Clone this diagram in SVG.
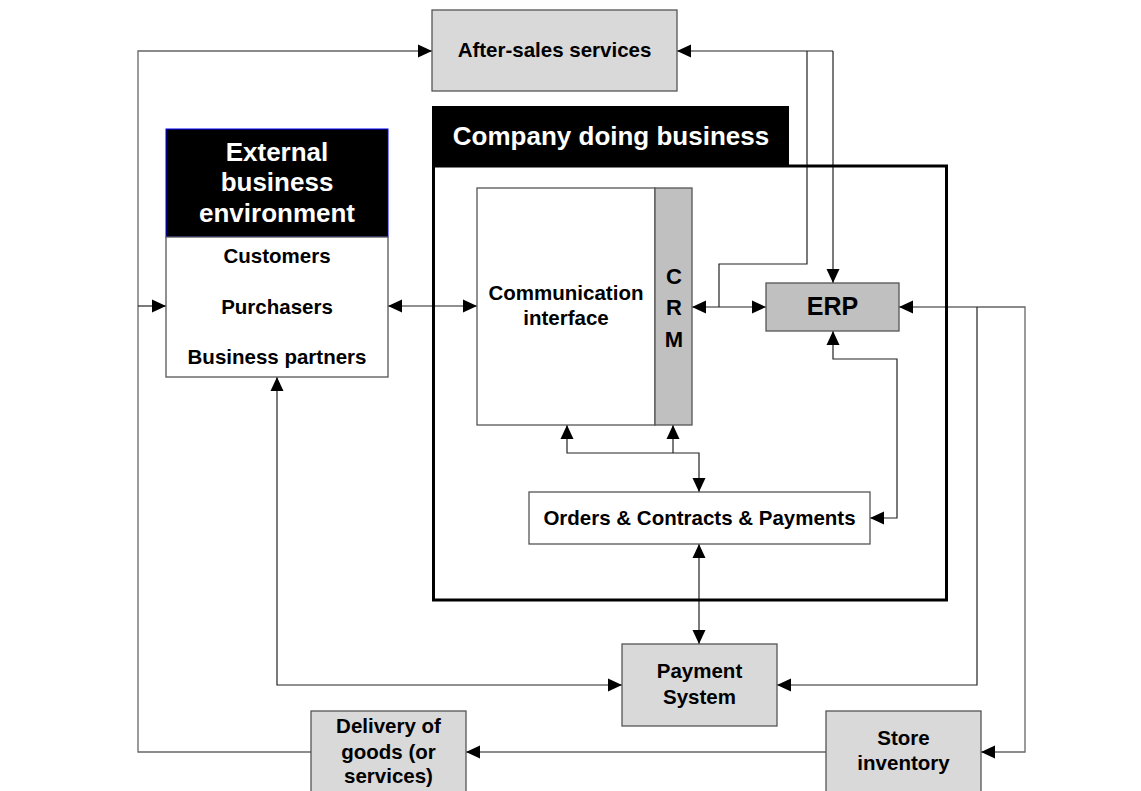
<svg xmlns="http://www.w3.org/2000/svg" width="1141" height="791" viewBox="0 0 1141 791">
<defs>
<style>
.t{font-family:"Liberation Sans",Arial,sans-serif;font-weight:bold;text-anchor:middle;fill:#000}
.w{fill:#fff}
.s{font-size:20.5px}
.l{font-size:26px}
.box{stroke:#555;stroke-width:1.3}
.c{fill:none;stroke:#222;stroke-width:1.2}
.g{fill:none;stroke:#666;stroke-width:1.3}
</style>
<marker id="a" markerUnits="userSpaceOnUse" markerWidth="14" markerHeight="14" refX="14" refY="6.5" orient="auto-start-reverse" viewBox="0 0 14 13">
<path d="M0,0 L14,6.5 L0,13 z" fill="#000"/>
</marker>
</defs>
<rect width="1141" height="791" fill="#fff"/>

<g id="connectors">
<path class="g" d="M311,752 H138 V51 H432" marker-end="url(#a)"/>
<path class="c" d="M138,306 H166" marker-end="url(#a)"/>
<path class="g" d="M826,752 H466" marker-end="url(#a)"/>
<path class="c" d="M977,307 H899" marker-end="url(#a)"/>
<path class="g" d="M977,307 H1025 V752 H981" marker-end="url(#a)"/>
<path class="c" d="M977,307 V685 H777" marker-end="url(#a)"/>
<path class="c" d="M692,307 H766" marker-start="url(#a)" marker-end="url(#a)"/>
<path class="c" d="M719,307 V264 H807 V51"/>
<path class="c" d="M833,51 H677" marker-end="url(#a)"/>
<path class="c" d="M833,51 V283" marker-end="url(#a)"/>
<path class="c" d="M388,306 H477" marker-start="url(#a)" marker-end="url(#a)"/>
<path class="c" d="M833,331 V359 H897 V518 H870" marker-start="url(#a)" marker-end="url(#a)"/>
<path class="c" d="M567,425 V453 H699 V492" marker-start="url(#a)" marker-end="url(#a)"/>
<path class="c" d="M673,425 V453" marker-start="url(#a)"/>
<path class="c" d="M699,544 V644" marker-start="url(#a)" marker-end="url(#a)"/>
<path class="c" d="M277,377 V685 H622" marker-start="url(#a)" marker-end="url(#a)"/>
</g>

<g id="company">
<rect x="433.5" y="166" width="513" height="434" fill="none" stroke="#000" stroke-width="3"/>
<rect x="432" y="106" width="357" height="60" fill="#000"/>
<text class="t w l" x="611" y="145">Company doing business</text>
</g>

<g id="after-sales">
<rect class="box" x="432" y="10" width="245" height="81" fill="#d9d9d9"/>
<text class="t s" x="554.5" y="57">After-sales services</text>
</g>

<g id="external">
<rect x="166" y="129" width="222" height="108" fill="#000" stroke="#00f" stroke-width="1"/>
<rect class="box" x="166" y="237" width="222" height="140" fill="#fff"/>
<text class="t w l" x="277" y="161">External</text>
<text class="t w l" x="277" y="191">business</text>
<text class="t w l" x="277" y="222">environment</text>
<text class="t s" x="277" y="263">Customers</text>
<text class="t s" x="277" y="314">Purchasers</text>
<text class="t s" x="277" y="364">Business partners</text>
</g>

<g id="comm">
<rect class="box" x="477" y="188" width="178" height="237" fill="#fff"/>
<text class="t s" x="566" y="300">Communication</text>
<text class="t s" x="566" y="325">interface</text>
</g>

<g id="crm">
<rect class="box" x="655" y="188" width="37" height="237" fill="#c0c0c0"/>
<text class="t" style="font-size:22px" x="674" y="284">C</text>
<text class="t" style="font-size:22px" x="674" y="315">R</text>
<text class="t" style="font-size:22px" x="674" y="347">M</text>
</g>

<g id="erp">
<rect class="box" x="766" y="283" width="133" height="48" fill="#c0c0c0"/>
<text class="t" style="font-size:25px" x="832.5" y="315">ERP</text>
</g>

<g id="orders">
<rect class="box" x="529" y="492" width="341" height="52" fill="#fff"/>
<text class="t s" x="699.5" y="525">Orders &amp; Contracts &amp; Payments</text>
</g>

<g id="payment">
<rect class="box" x="622" y="644" width="155" height="82" fill="#d9d9d9"/>
<text class="t s" x="699.5" y="678">Payment</text>
<text class="t s" x="699.5" y="704">System</text>
</g>

<g id="delivery">
<rect class="box" x="311" y="711" width="155" height="90" fill="#d9d9d9"/>
<text class="t s" x="388.5" y="733">Delivery of</text>
<text class="t s" x="388.5" y="759">goods (or</text>
<text class="t s" x="388.5" y="783">services)</text>
</g>

<g id="store">
<rect class="box" x="826" y="711" width="155" height="90" fill="#d9d9d9"/>
<text class="t s" x="903.5" y="745">Store</text>
<text class="t s" x="903.5" y="770">inventory</text>
</g>
</svg>
